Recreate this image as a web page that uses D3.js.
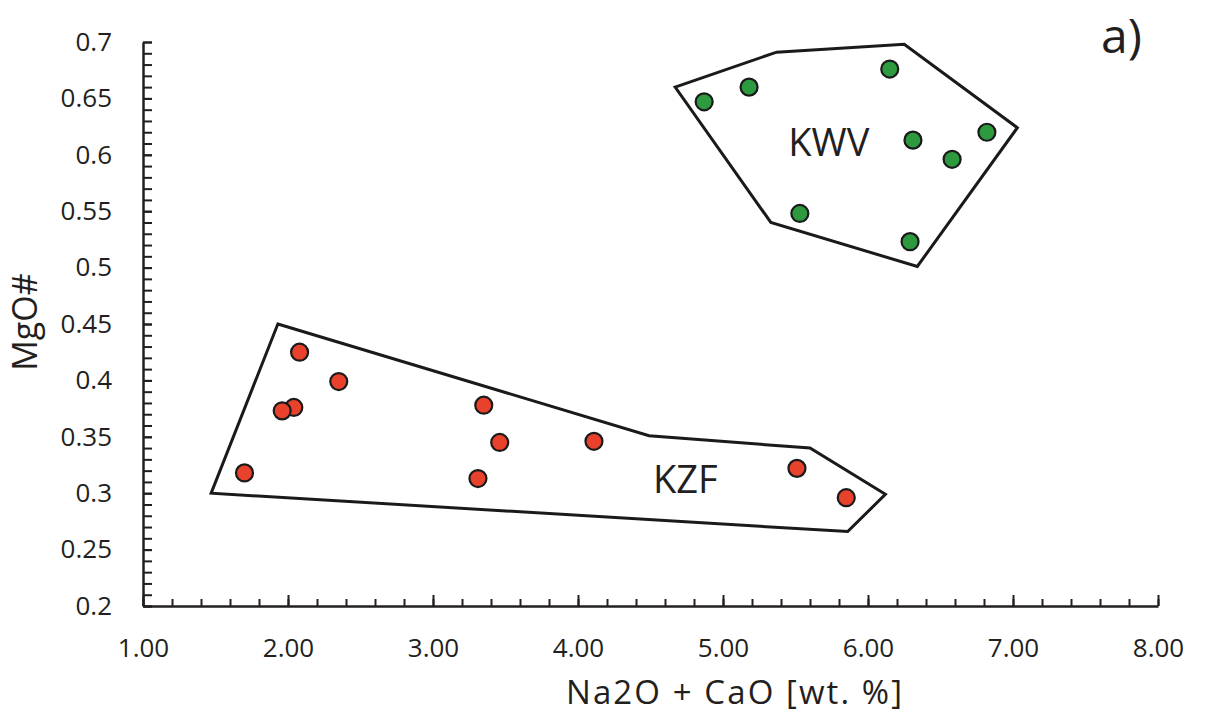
<!DOCTYPE html>
<html>
<head>
<meta charset="utf-8">
<script src="https://cdn.jsdelivr.net/npm/d3@7"></script>
<style>
  body { margin: 0; background: #fff; }
  svg { display: block; font-family: "Open Sans", sans-serif; }
  .axis path, .axis line { stroke: #231f20; }
  .axis text { fill: #231f20; }
</style>
</head>
<body>
<div id="chart"></div>
<script>
// KWV samples (green)
var kwvX = [4.87, 5.18, 6.15, 6.31, 6.82, 6.58, 5.53, 6.29];
var kwvY = [0.647, 0.660, 0.676, 0.613, 0.620, 0.596, 0.548, 0.523];

// KZF samples (red)
var kzfX = [2.08, 2.35, 2.04, 1.96, 1.70, 3.35, 3.46, 3.31, 4.11, 5.51, 5.85];
var kzfY = [0.425, 0.399, 0.376, 0.373, 0.318, 0.378, 0.345, 0.313, 0.346, 0.322, 0.296];

// field outlines
var kwvHullX = [4.67, 5.37, 6.25, 7.03, 6.34, 5.33];
var kwvHullY = [0.660, 0.691, 0.698, 0.624, 0.501, 0.540];
var kzfHullX = [1.93, 4.49, 5.60, 6.12, 5.86, 1.47];
var kzfHullY = [0.450, 0.351, 0.340, 0.299, 0.266, 0.300];

// ticks
var xTicks = [1, 2, 3, 4, 5, 6, 7, 8];
var yTicks = [0.2, 0.25, 0.3, 0.35, 0.4, 0.45, 0.5, 0.55, 0.6, 0.65, 0.7];

var width = 1205,
    height = 719;

var svg = d3.select("#chart").append("svg")
  .attr("width", width)
  .attr("height", height);

var x = d3.scaleLinear().domain([1, 8]).range([143, 1158]);
var y = d3.scaleLinear().domain([0.2, 0.7]).range([606, 42]);

// minor ticks first, no labels
svg.append("g")
  .attr("class", "axis")
  .attr("transform", "translate(0,606)")
  .call(d3.axisBottom(x).tickValues(d3.range(1, 8.001, 0.2)).tickSize(-7).tickFormat(""))
  .call(g => g.select(".domain").remove())
  .selectAll("line").style("stroke-width", 2);

svg.append("g")
  .attr("class", "axis")
  .attr("transform", "translate(143,0)")
  .call(d3.axisLeft(y).tickValues(d3.range(0.2, 0.7001, 0.01)).tickSize(-9).tickFormat(""))
  .call(g => g.select(".domain").remove())
  .selectAll("line").style("stroke-width", 2);

// major ticks with labels
var xAxis = svg.append("g")
  .attr("class", "axis")
  .attr("transform", "translate(0,606)")
  .call(d3.axisBottom(x).tickValues(xTicks).tickSizeInner(-11).tickSizeOuter(0)
    .tickPadding(33).tickFormat(d3.format(".2f")));
xAxis.select(".domain").style("stroke-width", 2.5);
xAxis.selectAll("line").style("stroke-width", 2);
xAxis.selectAll("text").style("font-size", "26px").style("font-family", "Open Sans");

var yAxis = svg.append("g")
  .attr("class", "axis")
  .attr("transform", "translate(143,0)")
  .call(d3.axisLeft(y).tickValues(yTicks).tickSizeInner(-9).tickSizeOuter(0)
    .tickPadding(31).tickFormat(d => d3.format("")(+d.toFixed(2))));
yAxis.select(".domain").style("stroke-width", 2.5);
yAxis.selectAll("line").style("stroke-width", 2);
yAxis.selectAll("text").style("font-size", "26px").style("font-family", "Open Sans");

// axis titles
svg.append("text")
  .attr("x", 734)
  .attr("y", 704)
  .attr("text-anchor", "middle")
  .attr("textLength", 336)
  .attr("lengthAdjust", "spacing")
  .style("font-size", "33px")
  .attr("fill", "#231f20")
  .text("Na2O + CaO [wt. %]");

svg.append("text")
  .attr("transform", "translate(37,322) rotate(-90)")
  .attr("text-anchor", "middle")
  .style("font-size", "34px")
  .attr("fill", "#231f20")
  .text("MgO#");

svg.append("text")
  .attr("x", 1101)
  .attr("y", 53)
  .style("font-size", "48px")
  .attr("fill", "#231f20")
  .text("a)");

// outlines
var line = d3.line().x(d => x(d[0])).y(d => y(d[1])).curve(d3.curveLinearClosed);

[[kwvHullX, kwvHullY], [kzfHullX, kzfHullY]].forEach(function(h) {
  svg.append("path")
    .attr("d", line(d3.zip(h[0], h[1])))
    .attr("fill", "none")
    .attr("stroke", "#1a1a1a")
    .attr("stroke-width", 3)
    .attr("stroke-linejoin", "miter");
});

// group labels
svg.append("text")
  .attr("x", x(5.73)).attr("y", y(0.611))
  .attr("text-anchor", "middle").attr("dy", "0.36em")
  .style("font-size", "38px").attr("fill", "#231f20")
  .text("KWV");

svg.append("text")
  .attr("x", x(4.74)).attr("y", y(0.312))
  .attr("text-anchor", "middle").attr("dy", "0.36em")
  .style("font-size", "38px").attr("fill", "#231f20")
  .text("KZF");

// points
function drawPoints(xs, ys, color) {
  svg.append("g")
    .selectAll("circle")
    .data(d3.zip(xs, ys))
    .enter().append("circle")
    .attr("cx", d => x(d[0]))
    .attr("cy", d => y(d[1]))
    .attr("r", 8.5)
    .attr("fill", color)
    .attr("stroke", "#1a1a1a")
    .attr("stroke-width", 2.2);
}

drawPoints(kwvX, kwvY, "#2e9a3f");
drawPoints(kzfX, kzfY, "#e8412c");
</script>
</body>
</html>
